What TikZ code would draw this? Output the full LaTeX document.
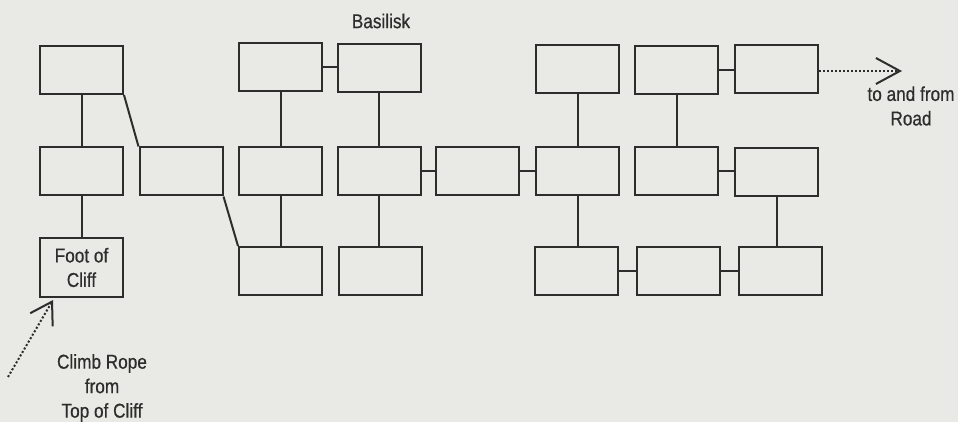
\documentclass[tikz,border=0pt]{standalone}
\usepackage{fontspec}
\setmainfont[FakeStretch=0.86, FakeBold=0.6]{Liberation Sans}
\usepackage{tikz}
\usetikzlibrary{arrows.meta}
\definecolor{paper}{RGB}{233,233,229}
\definecolor{ink}{RGB}{45,45,43}

\begin{document}
\begin{tikzpicture}[x=1pt, y=-1pt, line width=2pt,
	every node/.style={font=\fontsize{20}{24.5}\selectfont, text=ink},
	room/.style={draw=ink, minimum width=83pt, minimum height=48pt, inner sep=0pt},
	link/.style={draw=ink},
	path/.style={draw=ink, dotted, line width=2pt}]
	\fill[paper] (0,0) rectangle (958,422);
	\useasboundingbox (0,0) rectangle (958,422);
	% top row
	\node[room] (a1) at (81.5,70) {};
	\node[room] (b1) at (280.5,67) {};
	\node[room] (b2) at (379,68) {};
	\node[room] (c1) at (577.5,69.5) {};
	\node[room] (c2) at (676.5,70.5) {};
	\node[room] (c3) at (776.5,69.5) {};
	\node (basilisk) at (381,21) {Basilisk};
	% middle row
	\node[room] (d1) at (81.5,171.5) {};
	\node[room] (d2) at (181,171.5) {};
	\node[room] (d3) at (280.5,171.5) {};
	\node[room] (d4) at (379,171.5) {};
	\node[room] (d5) at (477.5,171.5) {};
	\node[room] (d6) at (577.5,171.5) {};
	\node[room] (d7) at (676.5,171.5) {};
	\node[room] (d8) at (776.5,172) {};
	% bottom row
	\node[room, minimum height=59pt, align=center] (foot) at (81.5,267.5) {Foot of\\Cliff};
	\node[room] (e3) at (280.5,271) {};
	\node[room] (e4) at (380,271) {};
	\node[room] (e6) at (576,270.5) {};
	\node[room] (e7) at (678,270.5) {};
	\node[room] (e8) at (780,270.5) {};
	% passages
	\draw[link] (a1.south) -- (d1.north);
	\draw[link] (d1.south) -- (foot.north);
	\draw[link] (a1.south east) -- (d2.north west);
	\draw[link] (d2.south east) -- (e3.north west);
	\draw[link] (b1.east) -- (b1.east -| b2.west);
	\draw[link] (b1.south) -- (d3.north);
	\draw[link] (b2.south) -- (d4.north);
	\draw[link] (d3.south) -- (d3.south |- e3.north);
	\draw[link] (d4.south) -- (d4.south |- e4.north);
	\draw[link] (d4) -- (d5);
	\draw[link] (d5) -- (d6);
	\draw[link] (c1.south) -- (c1.south |- d6.north);
	\draw[link] (d6.south) -- (d6.south |- e6.north);
	\draw[link] (c2.west -| c2.east) -- (c2.west -| c3.west);
	\draw[link] (c2.south) -- (c2.south |- d7.north);
	\draw[link] (d7.east) -- (d7.east -| d8.west);
	\draw[link] (d8.south) -- (d8.south |- e8.north);
	\draw[link] (e6) -- (e7);
	\draw[link] (e7) -- (e8);
	% exits
	\coordinate (roadtip) at (902,71);
	\draw[path, -{Straight Barb[length=24pt, width=26pt, line width=2pt]}] (c3.east |- roadtip) -- (roadtip);
	\node[align=center] (road) at (911,106) {to and from\\Road};
	\coordinate (ropeend) at (8,377);
	\coordinate (ropetip) at (53,300);
	\draw[path, -{Straight Barb[length=21pt, width=26pt, line width=2pt]}] (ropeend) -- (ropetip);
	\node[align=center] (rope) at (102,388) {Climb Rope\\from\\Top of Cliff};
\end{tikzpicture}
\end{document}
